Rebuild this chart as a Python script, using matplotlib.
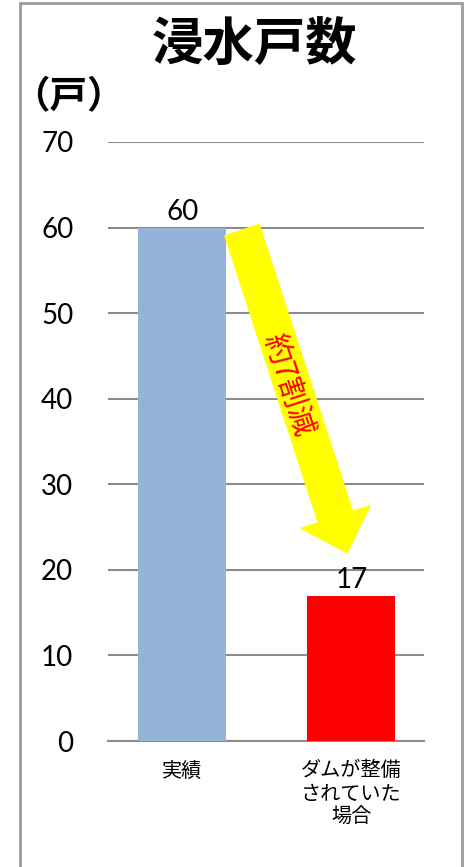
import matplotlib
matplotlib.use("Agg")
import matplotlib.pyplot as plt
from matplotlib.patches import Rectangle

plt.rcParams['font.family'] = ['Noto Sans CJK JP', 'DejaVu Sans']

# data
categories = ['実績', 'ダムが整備\nされていた\n場合']
values = [60, 17]
bar_colors = ['#95B3D7', '#FF0000']
yticks = [0, 10, 20, 30, 40, 50, 60, 70]
title = '浸水戸数'
unit = '（戸）'
note = '約7割減'

num_font = ['Lato', 'DejaVu Sans']

fig = plt.figure(figsize=(4.7, 8.67), dpi=100)
ax = fig.add_axes([108/470, 1-741/867, 316/470, 599/867])

x = list(range(len(categories)))
ax.bar(x, values, width=0.52, color=bar_colors, zorder=3)

for xi, v in zip(x, values):
    ax.text(xi, v + 0.3, str(v), ha='center', va='bottom', fontsize=20, family=num_font)

ax.set_ylim(0, 70)
ax.set_xlim(-0.44, 1.43)
ax.set_yticks(yticks)
ax.set_yticklabels([str(t) for t in yticks], family=num_font, fontsize=20)
ax.set_xticks(x)
ax.set_xticklabels(categories, fontsize=14.5, linespacing=1.15)
ax.tick_params(axis='y', length=0, pad=25)
ax.tick_params(axis='x', length=0, pad=14)
ax.grid(axis='y', color='#8C8C8C', linewidth=1.5, zorder=0)
for s in ['left', 'right', 'top']:
    ax.spines[s].set_visible(False)
ax.spines['bottom'].set_color('#8C8C8C')
ax.spines['bottom'].set_linewidth(1.5)

# arrow from the actual bar toward the dam case
ax.annotate('', xy=(0.975, values[1] + 5), xytext=(0.353, values[0] - 0.3),
            arrowprops=dict(arrowstyle='simple,head_width=2.6,head_length=1.35,tail_width=1.3',
                            mutation_scale=20, color='#FFFF00', shrinkA=0, shrinkB=0),
            zorder=4)
ax.text(0.625, 41.6, note, color='#FF0000', fontsize=21.5, rotation=-72,
        rotation_mode='anchor', ha='center', va='center', zorder=5)

fig.text(254/470, 1-45/867, title, ha='center', va='center', fontsize=37, fontweight='bold')
fig.text(68/470, 1-97/867, unit, ha='center', va='center', fontsize=27, fontweight='bold')

fig.patches.append(Rectangle((20/470, -0.02), 442/470, 1.02-3/867, transform=fig.transFigure,
                             fill=False, edgecolor='#9A9A9A', linewidth=2))

fig.savefig('out.png', dpi=100)
